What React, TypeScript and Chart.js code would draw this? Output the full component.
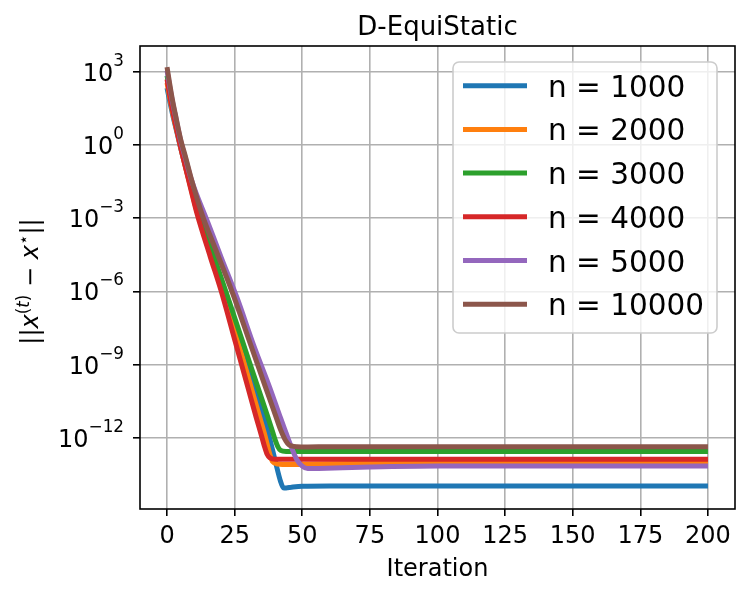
import React, { useEffect, useRef } from 'react';
import { Chart, registerables } from 'chart.js';

Chart.register(...registerables);

const titleText = 'D-EquiStatic';
const xAxisTitle = 'Iteration';

const seriesLabels = ['n = 1000', 'n = 2000', 'n = 3000', 'n = 4000', 'n = 5000', 'n = 10000'];
const seriesColors = ['#1f77b4', '#ff7f0e', '#2ca02c', '#d62728', '#9467bd', '#8c564b'];

// n = 1000
const iterN1000 = [0, 1, 2, 3, 5, 7, 9, 11, 16, 21, 27, 32, 36, 38, 40, 42, 43, 44, 46, 50, 60, 200];
const errN1000 = [219, 63, 19, 6.6, 0.79, 0.112, 0.0166, 2.5e-3, 4.0e-5, 1.0e-6, 7.9e-9, 1.41e-10, 6.3e-12, 8.9e-13, 1.12e-13, 1.58e-14, 8.9e-15, 8.7e-15, 9.3e-15, 1.02e-14, 1.05e-14, 1.05e-14];
// n = 2000
const iterN2000 = [0, 1, 2, 3, 5, 7, 9, 11, 16, 21, 26, 31, 34, 36, 37, 38, 39, 41, 45, 55, 80, 120, 200];
const errN2000 = [355, 89, 24, 7.6, 0.83, 0.105, 0.0141, 2.0e-3, 4.5e-5, 8.9e-7, 1.05e-8, 1.26e-10, 8.7e-12, 1.51e-12, 5.6e-13, 2.1e-13, 1.05e-13, 8.3e-14, 7.9e-14, 8.3e-14, 9.1e-14, 9.8e-14, 1.0e-13];
// n = 3000
const iterN3000 = [0, 1, 2, 3, 5, 7, 9, 13, 18, 23, 28, 33, 37, 39, 40, 41, 42, 44, 48, 200];
const errN3000 = [708, 158, 40, 12.6, 1.26, 0.19, 0.0282, 7.6e-4, 1.66e-5, 3.8e-7, 8.3e-9, 1.82e-10, 8.7e-12, 1.78e-12, 7.9e-13, 4.2e-13, 3.0e-13, 2.7e-13, 2.7e-13, 2.7e-13];
// n = 4000
const iterN4000 = [0, 1, 2, 3, 5, 7, 9, 11, 16, 20, 25, 30, 33, 35, 36, 37, 38, 40, 200];
const errN4000 = [501, 112, 28, 8.3, 0.83, 0.1, 0.0126, 1.66e-3, 2.6e-5, 1.05e-6, 1.05e-8, 1.05e-10, 6.6e-12, 1.12e-12, 4.5e-13, 2.1e-13, 1.51e-13, 1.32e-13, 1.32e-13];
// n = 5000
const iterN5000 = [0, 1, 2, 3, 5, 7, 9, 15, 20, 26, 32, 38, 42, 44, 46, 48, 50, 52, 56, 75, 100, 200];
const errN5000 = [1122, 251, 60, 17.8, 1.58, 0.24, 0.038, 7.1e-4, 2.5e-5, 5.0e-7, 6.3e-9, 1.12e-10, 6.3e-12, 1.58e-12, 4.0e-13, 1.26e-13, 6.8e-14, 5.4e-14, 5.5e-14, 6.3e-14, 6.9e-14, 6.9e-14];
// n = 10000
const iterN10000 = [0, 1, 2, 3, 5, 7, 9, 13, 18, 24, 30, 36, 40, 42, 44, 45, 46, 48, 52, 60, 200];
const errN10000 = [1585, 316, 71, 20, 1.78, 0.28, 0.04, 1.38e-3, 5.1e-5, 1.0e-6, 1.26e-8, 1.58e-10, 8.9e-12, 2.1e-12, 7.1e-13, 5.2e-13, 4.6e-13, 4.27e-13, 4.17e-13, 4.27e-13, 4.27e-13];

const xTicks = [0, 25, 50, 75, 100, 125, 150, 175, 200];
const xTickLabels = ['0', '25', '50', '75', '100', '125', '150', '175', '200'];
const yTickValues = [1e3, 1e0, 1e-3, 1e-6, 1e-9, 1e-12];
const yTickExponents = ['3', '0', '\u22123', '\u22126', '\u22129', '\u221212'];

const allIters = [iterN1000, iterN2000, iterN3000, iterN4000, iterN5000, iterN10000];
const allErrs = [errN1000, errN2000, errN3000, errN4000, errN5000, errN10000];

const FONT = '"DejaVu Sans", "Liberation Sans", sans-serif';

export default function App() {
  const canvasRef = useRef<HTMLCanvasElement | null>(null);

  useEffect(() => {
    const canvas = canvasRef.current;
    if (!canvas) return;

    // axis ranges like matplotlib's 5% margins
    const xsFlat = allIters.flat();
    const xMinD = Math.min(...xsFlat);
    const xMaxD = Math.max(...xsFlat);
    const xPad = (xMaxD - xMinD) * 0.05;
    const ysFlat = allErrs.flat().map((v) => Math.log10(v));
    const yMinD = Math.min(...ysFlat);
    const yMaxD = Math.max(...ysFlat);
    const yPad = (yMaxD - yMinD) * 0.05;

    const datasets = allIters.map((its, i) => ({
      label: seriesLabels[i],
      data: its.map((t, j) => ({ x: t, y: allErrs[i][j] })),
      borderColor: seriesColors[i],
      backgroundColor: seriesColors[i],
      borderWidth: 5,
      pointRadius: 0,
      pointHoverRadius: 0,
      fill: false,
      cubicInterpolationMode: 'monotone' as const,
      borderCapStyle: 'butt' as const,
      borderJoinStyle: 'round' as const,
      order: allIters.length - 1 - i,
    }));

    const decorations = {
      id: 'mplDecorations',
      afterDraw(chart: any) {
        const ctx = chart.ctx as CanvasRenderingContext2D;
        const area = chart.chartArea;
        const xs = chart.scales.x;
        const ys = chart.scales.y;
        ctx.save();

        // spines
        ctx.strokeStyle = '#000';
        ctx.lineWidth = 1.6;
        ctx.strokeRect(area.left, area.top, area.right - area.left, area.bottom - area.top);

        ctx.fillStyle = '#000';
        // title
        ctx.font = `26px ${FONT}`;
        ctx.textAlign = 'center';
        ctx.textBaseline = 'alphabetic';
        const cx = (area.left + area.right) / 2;
        ctx.fillText(titleText, cx, area.top - 11);

        // x tick labels
        ctx.font = `24px ${FONT}`;
        xTicks.forEach((t, i) => {
          const px = xs.getPixelForValue(t);
          ctx.fillText(xTickLabels[i], px, area.bottom + 34);
        });
        // x axis title
        ctx.fillText(xAxisTitle, cx, area.bottom + 67);

        // y tick labels 10^e
        ctx.textAlign = 'left';
        yTickValues.forEach((v, i) => {
          const py = ys.getPixelForValue(v);
          ctx.font = `24px ${FONT}`;
          const w1 = ctx.measureText('10').width;
          ctx.font = `16.8px ${FONT}`;
          const w2 = ctx.measureText(yTickExponents[i]).width;
          const x0 = area.left - 16 - (w1 + w2);
          ctx.font = `24px ${FONT}`;
          ctx.fillText('10', x0, py + 9);
          ctx.font = `16.8px ${FONT}`;
          ctx.fillText(yTickExponents[i], x0 + w1, py - 6);
        });

        // y axis title ||x^(t) − x^⋆||
        const pieces = [
          { t: '||', f: `24px ${FONT}`, dy: 0 },
          { t: 'x', f: `italic 24px ${FONT}`, dy: 0 },
          { t: '(', f: `16.8px ${FONT}`, dy: -9 },
          { t: 't', f: `italic 16.8px ${FONT}`, dy: -9 },
          { t: ')', f: `16.8px ${FONT}`, dy: -9 },
          { t: ' \u2212 ', f: `24px ${FONT}`, dy: 0 },
          { t: 'x', f: `italic 24px ${FONT}`, dy: 0 },
          { t: '\u22C6', f: `16.8px ${FONT}`, dy: -9 },
          { t: '||', f: `24px ${FONT}`, dy: 0 },
        ];
        let total = 0;
        const widths = pieces.map((p) => {
          ctx.font = p.f;
          const w = ctx.measureText(p.t).width;
          total += w;
          return w;
        });
        ctx.save();
        ctx.translate(38, (area.top + area.bottom) / 2 + 4);
        ctx.rotate(-Math.PI / 2);
        let px = -total / 2;
        pieces.forEach((p, i) => {
          ctx.font = p.f;
          ctx.fillText(p.t, px, p.dy);
          px += widths[i];
        });
        ctx.restore();

        // legend
        const lw = 264;
        const lh = 271;
        const lx = area.right - 18 - lw;
        const ly = area.top + 16;
        ctx.beginPath();
        if ((ctx as any).roundRect) {
          (ctx as any).roundRect(lx, ly, lw, lh, 6);
        } else {
          ctx.rect(lx, ly, lw, lh);
        }
        ctx.fillStyle = 'rgba(255,255,255,0.8)';
        ctx.fill();
        ctx.strokeStyle = 'rgba(204,204,204,1)';
        ctx.lineWidth = 1.6;
        ctx.stroke();
        seriesLabels.forEach((lab, i) => {
          const rowY = ly + 23.7 + i * 43.7;
          ctx.beginPath();
          ctx.strokeStyle = seriesColors[i];
          ctx.lineWidth = 5;
          ctx.lineCap = 'butt';
          ctx.moveTo(lx + 10, rowY);
          ctx.lineTo(lx + 74, rowY);
          ctx.stroke();
          ctx.fillStyle = '#000';
          ctx.font = `29.5px ${FONT}`;
          ctx.textAlign = 'left';
          ctx.fillText(lab, lx + 95, rowY + 11);
        });

        ctx.restore();
      },
    };

    const chart = new Chart(canvas, {
      type: 'line',
      data: { datasets: datasets as any },
      options: {
        animation: false,
        responsive: false,
        devicePixelRatio: 1,
        events: [],
        layout: { padding: { top: 46, right: 13, left: 0, bottom: 0 } },
        plugins: {
          legend: { display: false },
          title: { display: false },
          tooltip: { enabled: false },
        },
        scales: {
          x: {
            type: 'linear',
            min: xMinD - xPad,
            max: xMaxD + xPad,
            afterBuildTicks: (axis: any) => {
              axis.ticks = xTicks.map((v) => ({ value: v }));
            },
            afterFit: (axis: any) => {
              axis.height = 88;
            },
            ticks: { display: false },
            border: { display: false },
            grid: {
              color: '#b0b0b0',
              lineWidth: 1.6,
              drawTicks: true,
              tickLength: 7,
              tickColor: '#000',
              tickWidth: 1.6,
            },
          },
          y: {
            type: 'logarithmic',
            min: Math.pow(10, yMinD - yPad),
            max: Math.pow(10, yMaxD + yPad),
            afterBuildTicks: (axis: any) => {
              axis.ticks = yTickValues.map((v) => ({ value: v }));
            },
            afterFit: (axis: any) => {
              axis.width = 140;
            },
            ticks: { display: false },
            border: { display: false },
            grid: {
              color: '#b0b0b0',
              lineWidth: 1.6,
              drawTicks: true,
              tickLength: 7,
              tickColor: '#000',
              tickWidth: 1.6,
            },
          },
        },
      },
      plugins: [decorations],
    });

    return () => {
      chart.destroy();
    };
  }, []);

  return (
    <div style={{ position: 'absolute', left: 0, top: 0, width: 748, height: 597, background: '#fff' }}>
      <canvas ref={canvasRef} width={748} height={597} style={{ display: 'block', width: 748, height: 597 }} />
    </div>
  );
}
